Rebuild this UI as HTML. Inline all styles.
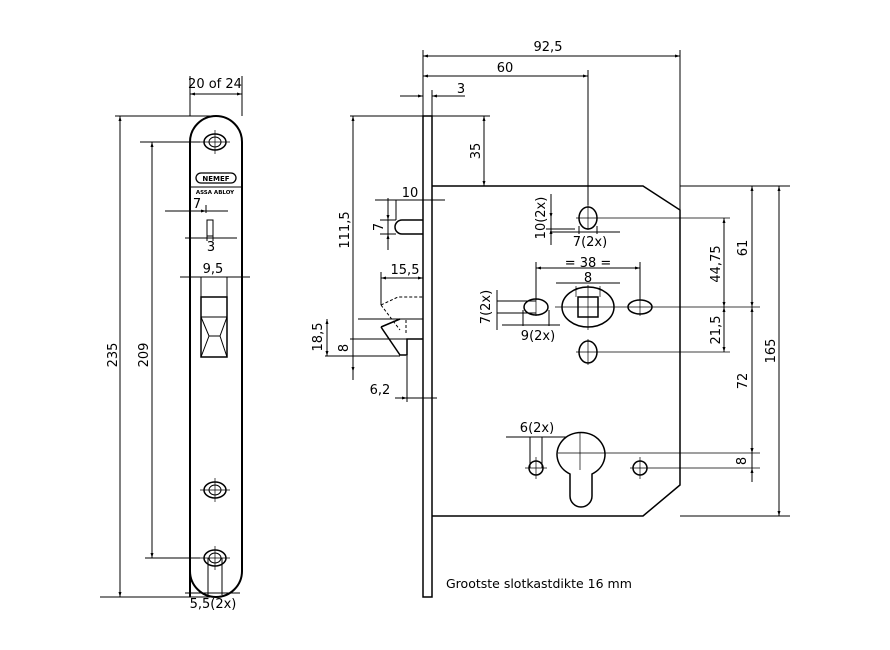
<!DOCTYPE html>
<html><head><style>
html,body{margin:0;padding:0;background:#fff}
svg{display:block}
text{font-family:"DejaVu Sans","Liberation Sans",sans-serif;fill:#000;font-size:13px}
</style></head><body>
<svg width="890" height="650" viewBox="0 0 890 650" xmlns="http://www.w3.org/2000/svg">
<defs>
<marker id="a" viewBox="0 0 10 10" refX="10" refY="5" markerWidth="7" markerHeight="5" orient="auto-start-reverse"><path d="M0,2 L10,5 L0,8z" fill="#000"/></marker>
</defs>
<g stroke="#000" fill="none" stroke-width="1">
<path d="M190,597 L190,142 A26,26 0 0 1 242,142 L242,571 A26,26 0 0 1 190,571" stroke-width="2"/>
<ellipse cx="215" cy="142" rx="11" ry="8" stroke-width="1.5"/><ellipse cx="215" cy="142" rx="6" ry="5"/>
<ellipse cx="215" cy="490" rx="11" ry="8" stroke-width="1.5"/><ellipse cx="215" cy="490" rx="6" ry="5"/>
<ellipse cx="215" cy="558" rx="11" ry="8" stroke-width="1.5"/><ellipse cx="215" cy="558" rx="6" ry="5"/>
<path d="M200,142H230M215,130V154M200,490H230M215,478V502M200,558H230M215,546V570" stroke-width=".7"/>
<rect x="196" y="173" width="40" height="10" rx="5" stroke-width="1.3"/>
<path d="M189,187H243"/>
<path d="M190,76V116M242,76V116"/>
<path d="M190,94H242" marker-start="url(#a)" marker-end="url(#a)"/>
<path d="M115,116H210M140,142H200"/>
<path d="M120,116V597" marker-start="url(#a)" marker-end="url(#a)"/>
<path d="M152,142V558" marker-start="url(#a)" marker-end="url(#a)"/>
<path d="M145,558H200M100,597H210"/>
<path d="M165,211H228M206,205V213"/>
<path d="M178,211H206" marker-end="url(#a)"/>
<rect x="207" y="220" width="6" height="16"/>
<path d="M185,238H237M207,236V241M213,236V241"/>
<path d="M180,277H250M201,277V297M227,277V297"/>
<rect x="201" y="297" width="26" height="60" stroke-width="1.5"/>
<path d="M201,317H227M201,317L209,336L220,336L227,317M209,336L201,357M220,336L227,357M209,336H220"/>
<path d="M208,558V595M222,558V595M185,593H240"/>
<rect x="423" y="116" width="9" height="481" stroke-width="1.5"/>
<path d="M432,186H643L680,210V485L643,516H432" stroke-width="1.5"/>
<path d="M423,50V116M680,50V210M588,70V205"/>
<path d="M423,56H680" marker-start="url(#a)" marker-end="url(#a)"/>
<path d="M423,76H588" marker-start="url(#a)" marker-end="url(#a)"/>
<path d="M400,96H423" marker-end="url(#a)"/><path d="M465,96H432" marker-end="url(#a)"/>
<path d="M432,90V116"/>
<path d="M350,116H490"/>
<path d="M484,116V186" marker-start="url(#a)" marker-end="url(#a)"/>
<path d="M353,116V372" marker-start="url(#a)" marker-end="url(#a)"/>
<path d="M375,200H445"/>
<path d="M396,200V220"/>
<path d="M423,220H402A7,7 0 0 0 402,234H423" stroke-width="1.5"/>
<path d="M380,220H396M380,234H396"/>
<path d="M388,198V250"/>
<path d="M388,208V220" marker-end="url(#a)"/><path d="M388,246V234" marker-end="url(#a)"/>
<path d="M381,278H423" marker-start="url(#a)" marker-end="url(#a)"/>
<path d="M381,272V305"/>
<path d="M381,305L398,297H423M381,305L400,330" stroke-dasharray="3,2"/>
<path d="M406,320V335" stroke-dasharray="3,2"/>
<path d="M358,319H423"/>
<path d="M381,327L400,319M381,327L400,355H407V339H423" stroke-width="1.5"/>
<path d="M350,339H407M325,356H400"/>
<path d="M327,319V356" marker-start="url(#a)" marker-end="url(#a)"/>
<path d="M353,339V380"/>
<path d="M407,356V402"/>
<path d="M395,398H437"/><path d="M395,398H407" marker-end="url(#a)"/>
<ellipse cx="588" cy="218" rx="9" ry="11" stroke-width="1.5"/>
<path d="M576,218H730M588,205V230" stroke-width=".7"/>
<path d="M550,232H620M579,226V234M597,226V234"/>
<path d="M551,194V245"/>
<path d="M551,208V218" marker-end="url(#a)"/>
<path d="M551,240V229" marker-end="url(#a)"/>
<path d="M546,229H575"/>
<ellipse cx="588" cy="307" rx="26" ry="20" stroke-width="1.5"/>
<rect x="578" y="297" width="20" height="20" stroke-width="1.5"/>
<path d="M555,307H760M588,285V330M576,286V297M600,286V297" stroke-width=".7"/>
<path d="M556,283H620"/>
<path d="M536,268H640" marker-start="url(#a)" marker-end="url(#a)"/>
<path d="M536,262V300M640,262V300"/>
<ellipse cx="536" cy="307" rx="12" ry="8" stroke-width="1.5"/>
<ellipse cx="640" cy="307" rx="12" ry="7" stroke-width="1.5"/>
<path d="M536,298V316M640,298V316" stroke-width=".7"/>
<path d="M497,301H536M497,313H536M497,290V330"/>
<path d="M523,310V326M549,310V326M502,325H560"/>
<ellipse cx="588" cy="352" rx="9" ry="11" stroke-width="1.5"/>
<path d="M576,352H730M588,339V365" stroke-width=".7"/>
<path d="M570,474A24,22 0 1 1 592,474V496A11,11 0 0 1 570,496Z" stroke-width="1.5"/>
<path d="M558,453H760M580,433V470" stroke-width=".7"/>
<circle cx="536" cy="468" r="7" stroke-width="1.5"/>
<circle cx="640" cy="468" r="7" stroke-width="1.5"/>
<path d="M525,468H547M536,457V479M630,468H760M640,457V479" stroke-width=".7"/>
<path d="M530,437V468M542,437V468M506,437H566"/>
<path d="M680,186H790M680,516H790"/>
<path d="M724,218V307" marker-start="url(#a)" marker-end="url(#a)"/>
<path d="M724,307V352" marker-start="url(#a)" marker-end="url(#a)"/>
<path d="M752,186V307" marker-start="url(#a)" marker-end="url(#a)"/>
<path d="M752,307V453" marker-start="url(#a)" marker-end="url(#a)"/>
<path d="M752,440V453" marker-end="url(#a)"/><path d="M752,482V468" marker-end="url(#a)"/>
<path d="M752,453V482"/>
<path d="M779,186V516" marker-start="url(#a)" marker-end="url(#a)"/>
</g>
<g>
<text x="215" y="88" text-anchor="middle">20 of 24</text>
<text x="216" y="181" text-anchor="middle" style="font-size:7px;font-weight:bold">NEMEF</text>
<text x="215" y="194" text-anchor="middle" style="font-size:5.5px;font-weight:bold">ASSA ABLOY</text>
<text x="197" y="208" text-anchor="middle">7</text>
<text x="211" y="251" text-anchor="middle">3</text>
<text x="213" y="273" text-anchor="middle">9,5</text>
<text x="213" y="608" text-anchor="middle">5,5(2x)</text>
<text transform="translate(117,355) rotate(-90)" text-anchor="middle">235</text>
<text transform="translate(148,355) rotate(-90)" text-anchor="middle">209</text>
<text x="548" y="51" text-anchor="middle">92,5</text>
<text x="505" y="72" text-anchor="middle">60</text>
<text x="461" y="93" text-anchor="middle">3</text>
<text transform="translate(480,151) rotate(-90)" text-anchor="middle">35</text>
<text transform="translate(349,230) rotate(-90)" text-anchor="middle">111,5</text>
<text x="410" y="197" text-anchor="middle">10</text>
<text transform="translate(383,227) rotate(-90)" text-anchor="middle">7</text>
<text x="405" y="274" text-anchor="middle">15,5</text>
<text transform="translate(322,337) rotate(-90)" text-anchor="middle">18,5</text>
<text transform="translate(348,348) rotate(-90)" text-anchor="middle">8</text>
<text x="380" y="394" text-anchor="middle">6,2</text>
<text transform="translate(545,218) rotate(-90)" text-anchor="middle">10(2x)</text>
<text x="590" y="246" text-anchor="middle">7(2x)</text>
<text x="588" y="267" text-anchor="middle">= 38 =</text>
<text x="588" y="282" text-anchor="middle">8</text>
<text transform="translate(490,307) rotate(-90)" text-anchor="middle">7(2x)</text>
<text x="538" y="340" text-anchor="middle">9(2x)</text>
<text x="537" y="432" text-anchor="middle">6(2x)</text>
<text transform="translate(720,264) rotate(-90)" text-anchor="middle">44,75</text>
<text transform="translate(747,248) rotate(-90)" text-anchor="middle">61</text>
<text transform="translate(720,330) rotate(-90)" text-anchor="middle">21,5</text>
<text transform="translate(747,381) rotate(-90)" text-anchor="middle">72</text>
<text transform="translate(746,461) rotate(-90)" text-anchor="middle">8</text>
<text transform="translate(775,351) rotate(-90)" text-anchor="middle">165</text>
<text x="446" y="588" style="font-size:12.5px">Grootste slotkastdikte 16 mm</text>
</g>
</svg>
</body></html>
